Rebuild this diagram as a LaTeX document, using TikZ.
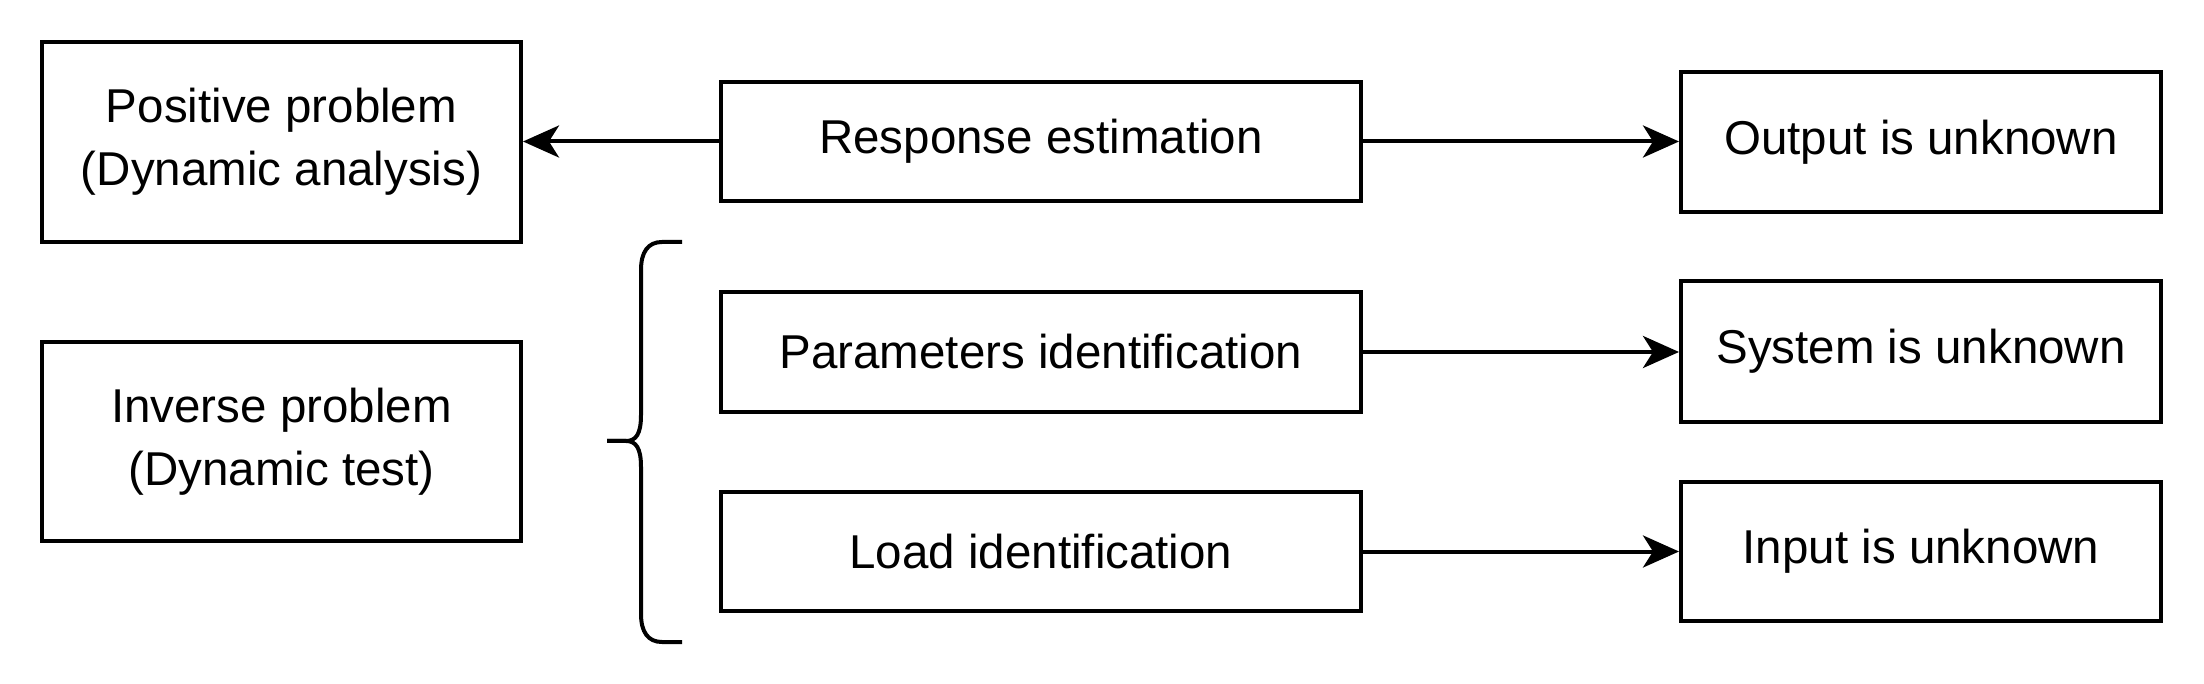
\documentclass[tikz,border=0pt]{standalone}
\usepackage{fontspec}
\setmainfont{Liberation Sans}
\usetikzlibrary{arrows.meta}
\begin{document}
\begin{tikzpicture}[x=1pt,y=-1pt,
  box/.style={draw=black, line width=4pt, fill=white, inner sep=0pt, align=center,
    font=\fontsize{47.5}{63}\selectfont},
  conn/.style={line width=4pt, -{Stealth[length=36pt,width=32pt,inset=10pt]}},
  bracepath/.style={line width=4pt}]
\useasboundingbox (0,0) rectangle (2204,684);
\node[box, minimum width=479pt, minimum height=200pt] (pos) at (281.5,142) {Positive problem\\(Dynamic analysis)};
\node[box, minimum width=479pt, minimum height=199pt] (inv) at (281.5,441.5) {Inverse problem\\(Dynamic test)};
\node[box, minimum width=640pt, minimum height=119pt] (resp) at (1041,141.5) {Response estimation};
\node[box, minimum width=640pt, minimum height=120pt] (par) at (1041,352) {Parameters identification};
\node[box, minimum width=640pt, minimum height=119pt] (load) at (1041,551.5) {Load identification};
\node[box, minimum width=480pt, minimum height=140pt] (out) at (1921,142) {Output is unknown};
\node[box, minimum width=480pt, minimum height=141pt] (sys) at (1921,351.5) {System is unknown};
\node[box, minimum width=480pt, minimum height=139pt] (inp) at (1921,551.5) {Input is unknown};
\draw[conn] (resp.west) -- (resp.west -| pos.east);
\draw[conn] (resp.east) -- (resp.east -| out.west);
\draw[conn] (par.east) -- (par.east -| sys.west);
\draw[conn] (load.east) -- (load.east -| inp.west);
\coordinate (btop) at (682,242);
\coordinate (bbot) at (682,642);
\coordinate (btip) at (607,441);
\draw[bracepath] (btop) -- (662,242) .. controls (648,242) and (641,252) .. (641,270)
  -- (641,415) .. controls (641,434) and (636,441) .. (626,441) -- (btip);
\draw[bracepath] (bbot) -- (662,642) .. controls (648,642) and (641,632) .. (641,614)
  -- (641,467) .. controls (641,448) and (636,441) .. (626,441) -- (btip);
\end{tikzpicture}
\end{document}
